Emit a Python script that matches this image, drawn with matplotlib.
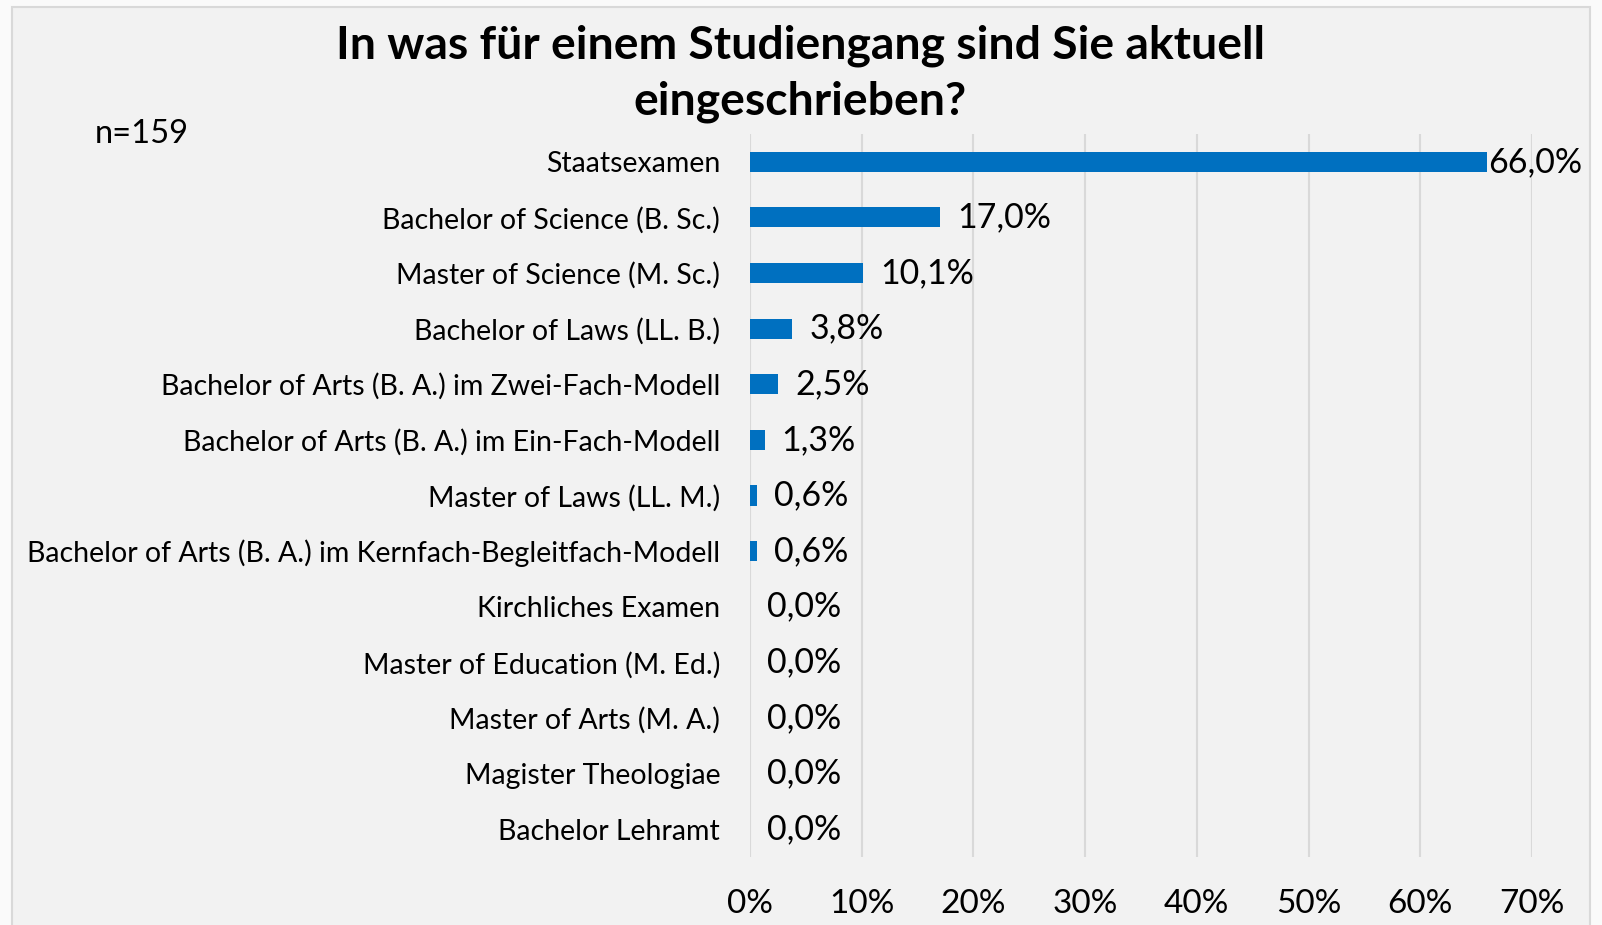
import matplotlib
matplotlib.use("Agg")
import matplotlib.pyplot as plt
from matplotlib.patches import Rectangle

categories = [
    "Staatsexamen",
    "Bachelor of Science (B. Sc.)",
    "Master of Science (M. Sc.)",
    "Bachelor of Laws (LL. B.)",
    "Bachelor of Arts (B. A.) im Zwei-Fach-Modell",
    "Bachelor of Arts (B. A.) im Ein-Fach-Modell",
    "Master of Laws (LL. M.)",
    "Bachelor of Arts (B. A.) im Kernfach-Begleitfach-Modell",
    "Kirchliches Examen",
    "Master of Education (M. Ed.)",
    "Master of Arts (M. A.)",
    "Magister Theologiae",
    "Bachelor Lehramt",
]
values = [66.0, 17.0, 10.1, 3.8, 2.5, 1.3, 0.6, 0.6, 0.0, 0.0, 0.0, 0.0, 0.0]
xticks = [0, 10, 20, 30, 40, 50, 60, 70]
title = "In was für einem Studiengang sind Sie aktuell\neingeschrieben?"
note = "n=159"

plt.rcParams['font.family'] = ['Lato', 'DejaVu Sans']

W, H = 1602, 925
fig = plt.figure(figsize=(W / 100, H / 100), dpi=100)
fig.patch.set_facecolor("#fafafa")
frame = Rectangle((12 / W, -0.05), (1590 - 12) / W, 1.05 - 7 / H,
                  transform=fig.transFigure, facecolor="#f2f2f2",
                  edgecolor="#d9d9d9", lw=1.5, zorder=-10)
fig.patches.append(frame)

ax = fig.add_axes([750 / W, 1 - 857 / H, (1532 - 750) / W, (857 - 134) / H])
ax.set_zorder(5)
ax.set_facecolor("none")
n = len(categories)
ypos = list(range(n))
ax.barh(ypos, values, height=0.36, color="#0070C0", zorder=3)
ax.set_ylim(n - 0.5, -0.5)
ax.set_xlim(0, 70)
ax.set_yticks(ypos)
ax.set_yticklabels(categories, fontsize=20.5)
ax.set_xticks(xticks)
ax.set_xticklabels([f"{t}%" for t in xticks], fontsize=24)
ax.tick_params(axis="y", length=0, pad=21.5)
ax.tick_params(axis="x", length=0, pad=23)
ax.grid(axis="x", color="#d9d9d9", lw=1.5, zorder=1)
for s in ax.spines.values():
    s.set_visible(False)

vmax = max(values)
for y, v in zip(ypos, values):
    off = 1 if v == vmax else 17
    ax.annotate(f"{v:.1f}%".replace(".", ","), (v, y), xytext=(off, 0),
                textcoords="offset pixels", va="center", ha="left",
                fontsize=24.5, color="black", zorder=4, annotation_clip=False)

fig.text(800 / W, 1 - 74 / H, title, ha="center", va="center",
         fontsize=33.3, fontweight="bold", linespacing=1.4)
fig.text(95 / W, 1 - 134 / H, note, ha="left", va="center", fontsize=23.5)

fig.savefig("out.png", dpi=100, facecolor=fig.get_facecolor())
